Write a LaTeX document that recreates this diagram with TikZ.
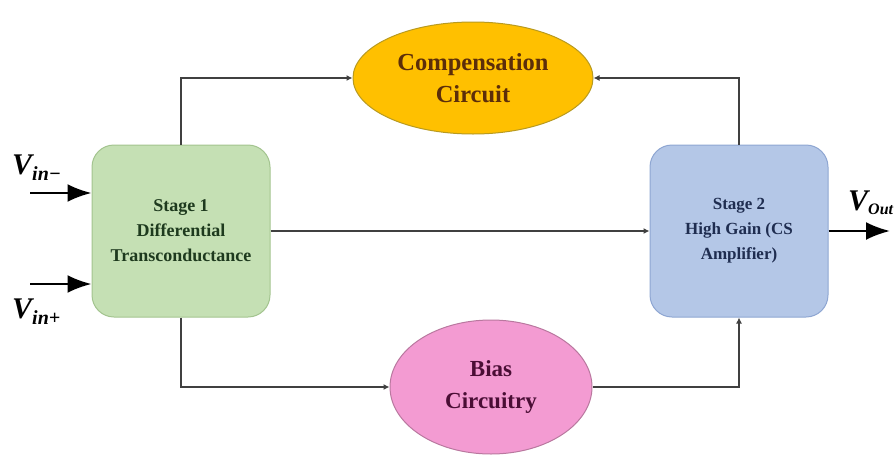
\documentclass[tikz,border=0pt]{standalone}
\usepackage{fontspec}
\setmainfont{Liberation Serif}
\usetikzlibrary{shapes.geometric,arrows.meta,calc}
\definecolor{gfill}{HTML}{C5E0B4}
\definecolor{gline}{HTML}{A3C48F}
\definecolor{bfill}{HTML}{B4C7E7}
\definecolor{bline}{HTML}{8EA6D2}
\definecolor{ofill}{HTML}{FFC000}
\definecolor{oline}{HTML}{B89A20}
\definecolor{pfill}{HTML}{F39BD2}
\definecolor{pline}{HTML}{B9789F}
\definecolor{gtext}{HTML}{1E3A1E}
\definecolor{btext}{HTML}{1F2D50}
\definecolor{otext}{HTML}{5C2E0A}
\definecolor{ptext}{HTML}{4A0E35}
\definecolor{conncol}{HTML}{404040}
\tikzset{
  stagebox/.style={draw, line width=1pt, rounded corners=22pt, minimum width=178pt, minimum height=172pt, inner sep=0pt, align=center, font=\fontsize{17}{25}\selectfont\bfseries},
  blob/.style={ellipse, draw, line width=1pt, inner sep=0pt, align=center, font=\fontsize{23}{32}\selectfont\bfseries},
  conn/.style={draw=conncol, line width=2.4pt, -{Latex[length=6pt,width=6pt]}},
  bigarrow/.style={draw=black, line width=2.4pt, -{Latex[length=24pt,width=18pt]}},
  vlabel/.style={inner sep=0pt, font=\fontsize{30}{30}\selectfont\bfseries\itshape},
}
\begin{document}
\begin{tikzpicture}[x=1pt,y=-1pt]
\useasboundingbox (0,0) rectangle (896,455);
\node[stagebox, fill=gfill, draw=gline, text=gtext, font=\fontsize{18}{25}\selectfont\bfseries] (s1) at (181,231) {Stage 1\\Differential\\Transconductance};
\node[stagebox, fill=bfill, draw=bline, text=btext] (s2) at (739,231) {Stage 2\\High Gain (CS\\Amplifier)};
\node[blob, fill=ofill, draw=oline, text=otext, minimum width=240pt, minimum height=112pt, font=\fontsize{24.5}{32}\selectfont\bfseries] (comp) at (473,78) {Compensation\\Circuit};
\node[blob, fill=pfill, draw=pline, text=ptext, minimum width=202pt, minimum height=134pt] (bias) at (491,387) {Bias\\Circuitry};
\draw[conn] (s1.north) |- (comp.west);
\draw[conn] (s2.north) |- (comp.east);
\draw[conn] (s1.east) -- (s2.west);
\draw[conn] (s1.south) |- (bias.west);
\draw[conn] (bias.east) -| (s2.south);
\coordinate (inm) at (30,193);
\coordinate (inp) at (30,284);
\coordinate (out) at (890,231);
\draw[bigarrow] (inm) -- (inm -| s1.west);
\draw[bigarrow] (inp) -- (inp -| s1.west);
\draw[bigarrow] (s2.east) -- (out);
\node[vlabel, anchor=base west] (vm) at (12,174) {V\raisebox{-6pt}{\fontsize{20}{20}\selectfont in−}};
\node[vlabel, anchor=base west] (vp) at (12,318) {V\raisebox{-6pt}{\fontsize{20}{20}\selectfont in+}};
\node[vlabel, anchor=base west] (vo) at (848,210) {V\raisebox{-4pt}{\fontsize{16}{16}\selectfont Out}};
\end{tikzpicture}
\end{document}
